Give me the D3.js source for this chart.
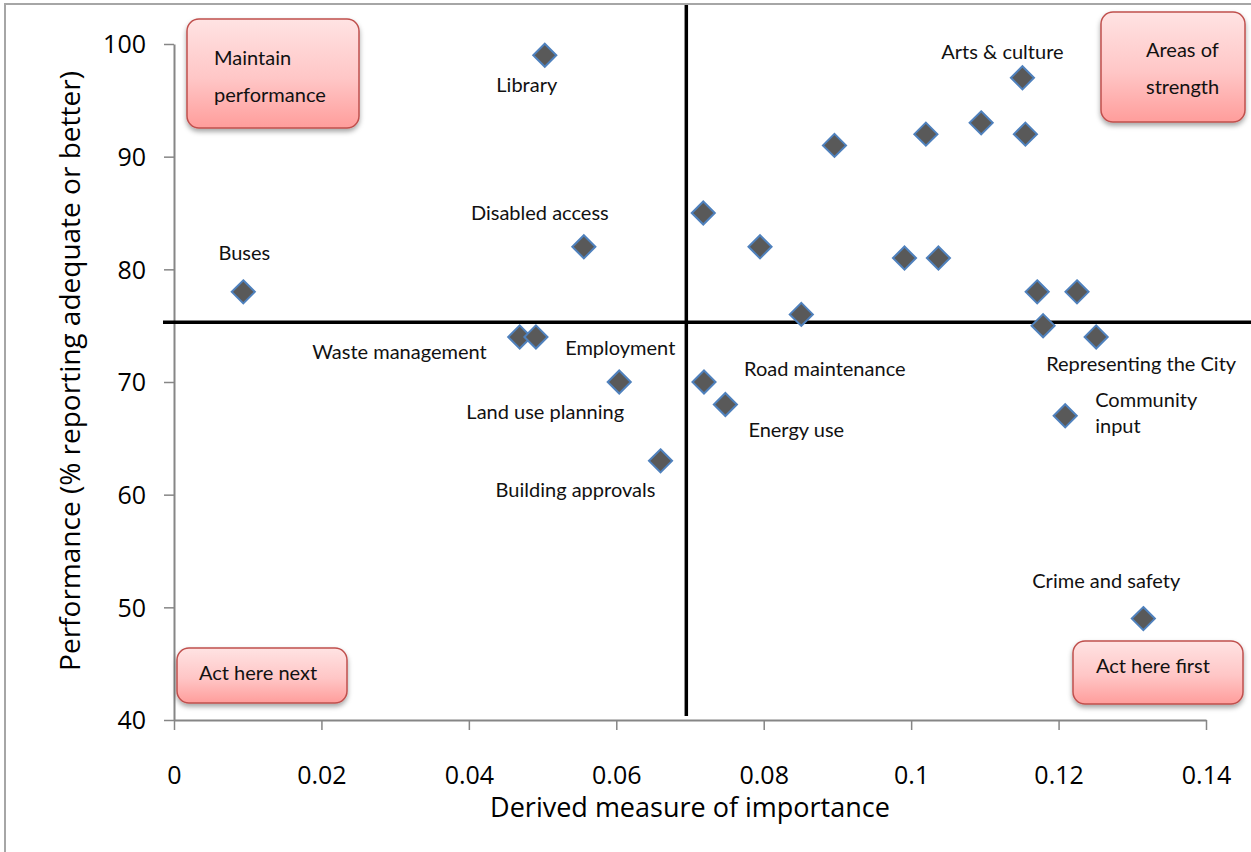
<!DOCTYPE html>
<html>
<head>
<meta charset="utf-8">
<script src="https://cdn.jsdelivr.net/npm/d3@7/dist/d3.min.js"></script>
<style>
  html, body { margin: 0; padding: 0; background: #fff; }
  svg { display: block; }
</style>
</head>
<body>
<svg id="chart" width="1251" height="852"></svg>
<script>
// Service attributes: derived importance vs. performance
const services = ["Library", "Buses", "Disabled access", "Waste management A", "Waste management B",
  "Land use planning", "Building approvals", "Road maintenance", "Energy use",
  "Service 10", "Service 11", "Service 12", "Service 13", "Service 14", "Service 15",
  "Service 16", "Service 17", "Arts & culture", "Service 19", "Service 20", "Service 21",
  "Service 22", "Representing the City", "Community input", "Crime and safety"];
const importance = [0.0503, 0.0094, 0.0556, 0.0469, 0.0491,
  0.0604, 0.0660, 0.0719, 0.0748,
  0.0718, 0.0795, 0.0851, 0.0896, 0.0991, 0.1037,
  0.1020, 0.1095, 0.1151, 0.1155, 0.1171, 0.1179,
  0.1225, 0.1251, 0.1209, 0.1315];
const performance = [99, 78, 82, 74, 74,
  70, 63, 70, 68,
  85, 82, 76, 91, 81, 81,
  92, 93, 97, 92, 78, 75,
  78, 74, 67, 49];

// Point labels: text lines, anchor value and offset (px) from the marker
const labelText = [["Library"], ["Buses"], ["Disabled access"], ["Waste management"], ["Employment"],
  ["Land use planning"], ["Building approvals"], ["Road maintenance"], ["Energy use"],
  ["Arts & culture"], ["Representing the City"], ["Community", "input"], ["Crime and safety"]];
const labelX = [0.0503, 0.0094, 0.0556, 0.0469, 0.0604, 0.0604, 0.0660, 0.0719, 0.0748, 0.1151, 0.1251, 0.1209, 0.1315];
const labelY = [99, 78, 82, 74, 70, 70, 63, 70, 68, 97, 74, 67, 49];
const labelDx = [-18, 1, -44, -33, 1, -74, -85, 40, 23, -20, 45, 30, -37];
const labelDy = [30, -39, -34, 15, -34, 30, 29, -13, 25, -26, 27, -16, -38];
const labelAnchor = ["middle", "middle", "middle", "end", "middle", "middle", "middle", "start", "start", "middle", "middle", "start", "middle"];

// Quadrant thresholds
const importanceCut = 0.0695;
const performanceCut = 75.3;

// Axis ticks
const xTicks = [0, 0.02, 0.04, 0.06, 0.08, 0.1, 0.12, 0.14];
const yTicks = [40, 50, 60, 70, 80, 90, 100];

// Quadrant call-out boxes
const boxText = [["Maintain", "performance"], ["Areas of", "strength"], ["Act here next"], ["Act here first"]];
const boxX = [187, 1101, 177, 1073];
const boxY = [19, 12, 648, 641];
const boxW = [172, 144, 170, 170];
const boxH = [109, 110, 55, 63];
const boxTextX = [214, 1146, 199, 1096];
const boxTextY = [58, 50, 673, 666];

const svg = d3.select("#chart");
const x = d3.scaleLinear().domain([0, 0.14]).range([174, 1206]);
const y = d3.scaleLinear().domain([40, 100]).range([720, 44]);

const labelFont = "'Lato', 'DejaVu Sans', sans-serif";
const axisFont = "'Open Sans', 'Liberation Sans', sans-serif";

const defs = svg.append("defs");
const grad = defs.append("linearGradient").attr("id", "boxFill")
  .attr("x1", 0).attr("y1", 0).attr("x2", 0).attr("y2", 1);
grad.append("stop").attr("offset", "0%").attr("stop-color", "#ffe3e3");
grad.append("stop").attr("offset", "55%").attr("stop-color", "#ffc6c6");
grad.append("stop").attr("offset", "100%").attr("stop-color", "#ff9d9b");
const shadow = defs.append("filter").attr("id", "boxShadow")
  .attr("x", "-20%").attr("y", "-20%").attr("width", "140%").attr("height", "150%");
shadow.append("feDropShadow").attr("dx", 0).attr("dy", 3).attr("stdDeviation", 2.5)
  .attr("flood-color", "#000").attr("flood-opacity", 0.35);

// Outer frame
svg.append("rect").attr("x", 5).attr("y", 4).attr("width", 1300).attr("height", 900)
  .attr("fill", "none").attr("stroke", "#a6a6a6").attr("stroke-width", 2);

// Axes
const xAxis = svg.append("g").attr("transform", `translate(0,${y(40)})`)
  .call(d3.axisBottom(x).tickValues(xTicks).tickSize(10).tickSizeOuter(0)
    .tickFormat(d => d === 0 ? "0" : String(+d.toFixed(2))));
const yAxis = svg.append("g").attr("transform", `translate(${x(0)},0)`)
  .call(d3.axisLeft(y).tickValues(yTicks).tickSize(10).tickSizeOuter(0));
[xAxis, yAxis].forEach(g => {
  g.select(".domain").attr("stroke", "#868686").attr("stroke-width", 2);
  g.selectAll(".tick line").attr("stroke", "#868686").attr("stroke-width", 1.5);
  g.selectAll(".tick text").attr("fill", "#000").style("font-family", axisFont).style("font-size", "25px");
});
xAxis.selectAll(".tick text").attr("y", 55).attr("dy", "0.35em");
yAxis.selectAll(".tick text").attr("x", -28).attr("dy", "0.35em");

// Axis titles
svg.append("text").attr("x", 690).attr("y", 808).attr("dy", "0.35em").attr("text-anchor", "middle")
  .style("font-family", axisFont).style("font-size", "27px").text("Derived measure of importance");
svg.append("text").attr("transform", "translate(70,371) rotate(-90)").attr("dy", "0.35em").attr("text-anchor", "middle")
  .style("font-family", axisFont).style("font-size", "28px").text("Performance (% reporting adequate or better)");

// Quadrant divider lines
svg.append("line").attr("x1", x(importanceCut)).attr("x2", x(importanceCut))
  .attr("y1", 5).attr("y2", y(40) - 4).attr("stroke", "#000").attr("stroke-width", 3.5);
svg.append("line").attr("x1", x(0) - 11).attr("x2", 1251)
  .attr("y1", y(performanceCut)).attr("y2", y(performanceCut)).attr("stroke", "#000").attr("stroke-width", 3.5);

// Quadrant call-out boxes
boxText.forEach((lines, i) => {
  svg.append("rect").attr("x", boxX[i]).attr("y", boxY[i]).attr("width", boxW[i]).attr("height", boxH[i])
    .attr("rx", 12).attr("ry", 12).attr("fill", "url(#boxFill)")
    .attr("stroke", "#c0504d").attr("stroke-width", 1.5).attr("filter", "url(#boxShadow)");
  lines.forEach((t, j) => {
    svg.append("text").attr("x", boxTextX[i]).attr("y", boxTextY[i] + j * 36.5).attr("dy", "0.35em")
      .style("font-family", labelFont).style("font-size", "20px").attr("fill", "#111").text(t);
  });
});

// Diamond markers
const diamond = d3.symbol().type(d3.symbolDiamond2).size(340);
svg.append("g").selectAll("path").data(d3.range(services.length)).join("path")
  .attr("d", diamond)
  .attr("transform", i => `translate(${x(importance[i])},${y(performance[i])})`)
  .attr("fill", "#595959").attr("stroke", "#4f81bd").attr("stroke-width", 2);

// Point labels
labelText.forEach((lines, i) => {
  const lx = x(labelX[i]) + labelDx[i];
  const t = svg.append("text")
    .attr("x", lx).attr("y", y(labelY[i]) + labelDy[i])
    .attr("text-anchor", labelAnchor[i])
    .style("font-family", labelFont).style("font-size", "20px").attr("fill", "#111");
  lines.forEach((l, j) => {
    t.append("tspan").attr("x", lx).attr("dy", j === 0 ? "0.35em" : "1.3em").text(l);
  });
});
</script>
</body>
</html>
